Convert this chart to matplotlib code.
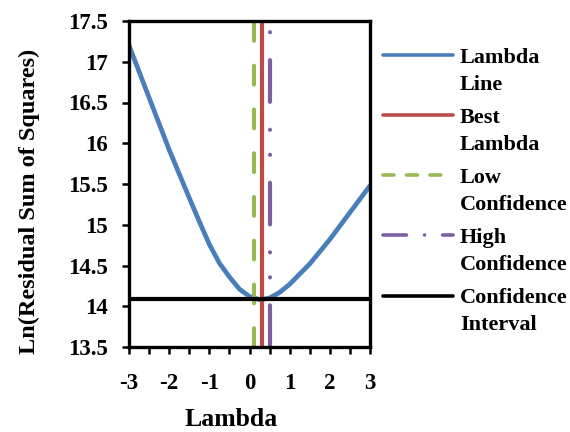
import matplotlib.pyplot as plt
from matplotlib.lines import Line2D
from matplotlib.ticker import MultipleLocator, FormatStrFormatter

plt.rcParams['font.family'] = ['Liberation Serif', 'DejaVu Serif']
plt.rcParams['font.weight'] = 'bold'

# lambda curve
lam = [-3, -2.5, -2, -1.5, -1.25, -1, -0.75, -0.5, -0.25, 0, 0.25, 0.5, 0.75, 1, 1.5, 2, 2.5, 3]
ln_rss = [17.2, 16.56, 15.92, 15.33, 15.04, 14.76, 14.53, 14.36, 14.21, 14.12, 14.08, 14.1, 14.17,
          14.27, 14.52, 14.82, 15.15, 15.48]

best_lambda = 0.3
low_conf = 0.1
high_conf = 0.5
conf_level = 14.09

y_span = [13.5, 17.5]
x_span = [-3, 3]

blue = '#4A7EBB'
red = '#BE4B48'
green = '#98B954'
purple = '#7D60A0'

fig = plt.figure(figsize=(5.7, 4.32), dpi=100)
ax = fig.add_axes([129 / 570, 1 - 347 / 432, 241 / 570, 326 / 432])

ax.plot(lam, ln_rss, color=blue, lw=3.4, solid_capstyle='round', solid_joinstyle='round')
ax.plot([best_lambda, best_lambda], y_span, color=red, lw=3.0)
ax.plot([low_conf, low_conf], y_span, color=green, lw=3.0,
        dashes=(4.5, 6), dash_capstyle='round')
ax.plot([high_conf, high_conf], y_span, color=purple, lw=3.0,
        dashes=(10, 6.7, 0.01, 6, 0.01, 6.7), dash_capstyle='round')
ax.plot(x_span, [conf_level, conf_level], color='black', lw=3.0)

ax.set_xlim(-3, 3)
ax.set_ylim(13.5, 17.5)
ax.xaxis.set_major_locator(MultipleLocator(1))
ax.xaxis.set_minor_locator(MultipleLocator(0.5))
ax.yaxis.set_major_locator(MultipleLocator(0.5))
ax.xaxis.set_major_formatter(FormatStrFormatter('%g'))
ax.yaxis.set_major_formatter(FormatStrFormatter('%g'))
ax.tick_params(which='both', direction='out', length=5, width=1.8, labelsize=16.5)
ax.tick_params(axis='x', pad=14)
ax.tick_params(axis='y', pad=10)
for s in ax.spines.values():
    s.set_linewidth(2.4)

ax.set_xlabel('Lambda', fontsize=18.5, fontweight='bold')
ax.set_ylabel('Ln(Residual Sum of Squares)', fontsize=17.5, fontweight='bold')
ax.xaxis.set_label_coords((231 - 129) / 241, (347 - 408) / 326)
ax.yaxis.set_label_coords((40 - 129) / 241, (347 - 201) / 326)

# legend drawn by hand so the handle sits on the first text line
entries = [
    ('Lambda', 'Line', blue, None),
    ('Best', 'Lambda', red, None),
    ('Low', 'Confidence', green, (3, 3.5)),
    ('High', 'Confidence', purple, (6.5, 5, 0.01, 5)),
    ('Confidence', 'Interval', 'black', None),
]
for i, (l1, l2, col, dash) in enumerate(entries):
    yp = 54.5 + i * 60.3
    yf = 1 - yp / 432
    ln = Line2D([383 / 570, 453 / 570], [yf, yf], transform=fig.transFigure,
                color=col, lw=2.6, solid_capstyle='round', dash_capstyle='round')
    if dash:
        ln.set_dashes(dash)
    fig.add_artist(ln)
    base = 63 + i * 60
    fig.text(460 / 570, 1 - base / 432, l1, fontsize=16, fontweight='bold',
             va='baseline', ha='left')
    fig.text(460 / 570, 1 - (base + 26.5) / 432, l2, fontsize=16, fontweight='bold',
             va='baseline', ha='left')

fig.savefig('out.png', dpi=100)
